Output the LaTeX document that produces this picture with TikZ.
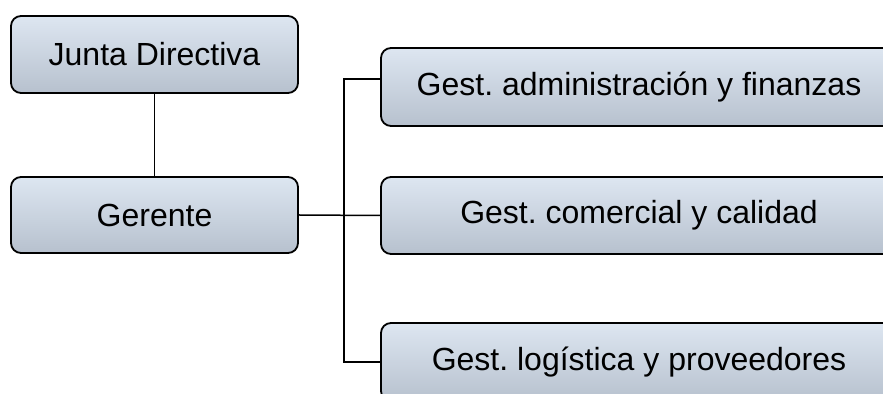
\documentclass[tikz,border=0pt]{standalone}
\usepackage{fontspec}
\setmainfont{Liberation Sans}
\frenchspacing
\definecolor{boxtop}{RGB}{221,230,241}
\definecolor{boxbot}{RGB}{183,193,206}

\begin{document}
\begin{tikzpicture}[x=0.5pt,y=-0.5pt,
	unit/.style={draw,line width=0.9pt,rounded corners=5pt,top color=boxtop,bottom color=boxbot,inner sep=0,font=\fontsize{16}{19}\selectfont},
	link/.style={line width=0.75pt}]
	\useasboundingbox (0,0) rectangle (883,394);
	\clip (0,0) rectangle (883,394);
	\node[unit,minimum width=143.5pt,minimum height=38.5pt] (jd) at (154.5,54.5) {Junta Directiva};
	\node[unit,minimum width=143.5pt,minimum height=38pt] (ger) at (154.5,215) {Gerente};
	\node[unit,minimum width=258pt,minimum height=39pt] (gaf) at (639,87) {Gest. administración y finanzas};
	\node[unit,minimum width=258pt,minimum height=38.5pt] (gcc) at (639,215.5) {Gest. comercial y calidad};
	\node[unit,minimum width=258pt,minimum height=39pt] (glp) at (639,362) {Gest. logística y proveedores};
	\coordinate (bus) at (344,216);
	\draw[link] (jd) -- (ger);
	\draw[link] (ger.east) -- (gcc.west);
	\draw[link] ([yshift=4pt]gaf.west) -| (bus) |- (glp.west);
\end{tikzpicture}
\end{document}
